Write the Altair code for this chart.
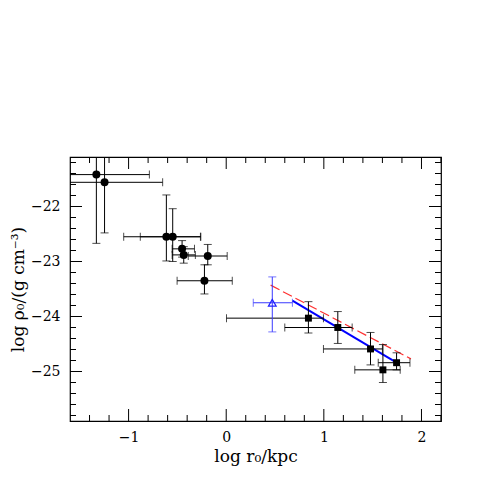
import altair as alt
import pandas as pd

# ---- data ----
# filled circles
c_x   = [-1.33, -1.246, -0.613, -0.548, -0.452, -0.435, -0.189, -0.223]
c_y   = [-21.42, -21.56, -22.55, -22.55, -22.77, -22.88, -22.90, -23.35]
c_xlo = [-1.873, -1.841, -1.05, -0.88, -0.554, -0.554, -0.389, -0.503]
c_xhi = [-0.787, -0.651, -0.264, -0.26, -0.325, -0.316, 0.01, 0.062]
c_ylo = [-22.67, -22.48, -22.99, -23.0, -22.92, -23.03, -23.06, -23.59]
c_yhi = [-20.17, -20.64, -21.79, -22.04, -22.62, -22.73, -22.69, -23.06]

# filled squares
s_x   = [0.842, 1.143, 1.478, 1.605, 1.745]
s_y   = [-24.03, -24.20, -24.59, -24.97, -24.84]
s_xlo = [0.003, 0.60, 0.996, 1.317, 1.557]
s_xhi = [0.996, 1.29, 1.60, 1.782, 1.882]
s_ylo = [-24.30, -24.49, -24.88, -25.20, -24.97]
s_yhi = [-23.73, -23.91, -24.29, -24.51, -24.66]

# open blue triangle
t_x   = [0.472]
t_y   = [-23.75]
t_xlo = [0.277]
t_xhi = [0.678]
t_ylo = [-24.28]
t_yhi = [-23.28]

# fitted lines
blue_x = [0.678, 1.745]
blue_y = [-23.71, -24.84]
red_x  = [0.455, 1.892]
red_y  = [-23.43, -24.77]

# axis ticks
x_major = [-1, 0, 1, 2]
x_minor = [-1.4, -1.2, -0.8, -0.6, -0.4, -0.2, 0.2, 0.4, 0.6, 0.8,
           1.2, 1.4, 1.6, 1.8, 2.2]
y_major = [-25, -24, -23, -22]
y_minor = [-25.8, -25.6, -25.4, -25.2, -24.8, -24.6, -24.4, -24.2,
           -23.8, -23.6, -23.4, -23.2, -22.8, -22.6, -22.4, -22.2,
           -21.8, -21.6, -21.4, -21.2]

W, H = 371, 264
FONT = "DejaVu Serif"

xs = alt.Scale(domain=[-1.6, 2.2], nice=False, zero=False)
ys = alt.Scale(domain=[-25.9, -21.1], nice=False, zero=False)
XT = "log  r\u2080/kpc"
YT = "log \u03c1\u2080/(g cm\u207b\u00b3)"
xaxis = alt.Axis(values=x_major, ticks=False, tickSize=0, domain=False, grid=False,
                 labelFont=FONT, labelFontSize=14, labelColor="black", labelPadding=9,
                 titleFont=FONT, titleFontSize=17, titleFontWeight="normal",
                 titleColor="black", titlePadding=4)
yaxis = alt.Axis(values=y_major, ticks=False, tickSize=0, domain=False, grid=False,
                 labelFont=FONT, labelFontSize=14, labelColor="black", labelPadding=10,
                 titleFont=FONT, titleFontSize=17, titleFontWeight="normal",
                 titleColor="black", titlePadding=3)


def X(f):
    return alt.X(f"{f}:Q", scale=xs, axis=xaxis, title=XT)


def Y(f):
    return alt.Y(f"{f}:Q", scale=ys, axis=yaxis, title=YT)


def df(x, y, xlo, xhi, ylo, yhi):
    return pd.DataFrame({"x": x, "y": y, "xlo": xlo, "xhi": xhi, "ylo": ylo, "yhi": yhi})


circ = df(c_x, c_y, c_xlo, c_xhi, c_ylo, c_yhi)
sq = df(s_x, s_y, s_xlo, s_xhi, s_ylo, s_yhi)
tri = df(t_x, t_y, t_xlo, t_xhi, t_ylo, t_yhi)


def errbars(d, color):
    b = alt.Chart(d)
    hx = b.mark_rule(color=color, strokeWidth=1, clip=True).encode(x=X("xlo"), x2="xhi", y=Y("y"))
    vy = b.mark_rule(color=color, strokeWidth=1, clip=True).encode(x=X("x"), y=Y("ylo"), y2="yhi")
    c1 = b.mark_tick(color=color, orient="vertical", size=8, thickness=1, clip=True).encode(x=X("xlo"), y=Y("y"))
    c2 = b.mark_tick(color=color, orient="vertical", size=8, thickness=1, clip=True).encode(x=X("xhi"), y=Y("y"))
    c3 = b.mark_tick(color=color, orient="horizontal", size=8, thickness=1, clip=True).encode(x=X("x"), y=Y("ylo"))
    c4 = b.mark_tick(color=color, orient="horizontal", size=8, thickness=1, clip=True).encode(x=X("x"), y=Y("yhi"))
    return [hx, vy, c1, c2, c3, c4]


blue_df = pd.DataFrame({"x": blue_x, "y": blue_y})
red_df = pd.DataFrame({"x": red_x, "y": red_y})

blue_line = alt.Chart(blue_df).mark_line(color="#0000ff", strokeWidth=2).encode(x=X("x"), y=Y("y"))
red_line = alt.Chart(red_df).mark_line(color="#ff3030", strokeWidth=1.2, strokeDash=[10, 4]).encode(x=X("x"), y=Y("y"))

pts_c = alt.Chart(circ).mark_point(shape="circle", filled=True, color="black", size=64, opacity=1).encode(x=X("x"), y=Y("y"))
pts_s = alt.Chart(sq).mark_point(shape="square", filled=True, color="black", size=48, opacity=1).encode(x=X("x"), y=Y("y"))
pts_t = alt.Chart(tri).mark_point(shape="triangle-up", filled=False, color="#2020ff", size=60, strokeWidth=1.2, opacity=1).encode(x=X("x"), y=Y("y"))


def xticks(vals, length):
    d = pd.DataFrame({"v": vals})
    b = alt.Chart(d)
    bot = b.mark_rule(color="black", strokeWidth=1).encode(x=X("v"), y=alt.value(H), y2=alt.value(H - length))
    top = b.mark_rule(color="black", strokeWidth=1).encode(x=X("v"), y=alt.value(0), y2=alt.value(length))
    return [bot, top]


def yticks(vals, length):
    d = pd.DataFrame({"v": vals})
    b = alt.Chart(d)
    lft = b.mark_rule(color="black", strokeWidth=1).encode(y=Y("v"), x=alt.value(0), x2=alt.value(length))
    rgt = b.mark_rule(color="black", strokeWidth=1).encode(y=Y("v"), x=alt.value(W - length), x2=alt.value(W))
    return [lft, rgt]


layers = (xticks(x_major, 12) + xticks(x_minor, 6) + yticks(y_major, 12) + yticks(y_minor, 6)
          + [red_line, blue_line]
          + errbars(circ, "black") + errbars(sq, "black") + errbars(tri, "#3a3aff")
          + [pts_c, pts_s, pts_t])

chart = alt.layer(*layers).properties(
    width=W, height=H,
    autosize=alt.AutoSizeParams(type="none"),
    padding={"left": 62, "top": 149, "right": 20, "bottom": 56},
).configure_view(stroke="black", strokeWidth=1.2)

chart.save("out.html", embed_options={"renderer": "svg", "actions": False})
